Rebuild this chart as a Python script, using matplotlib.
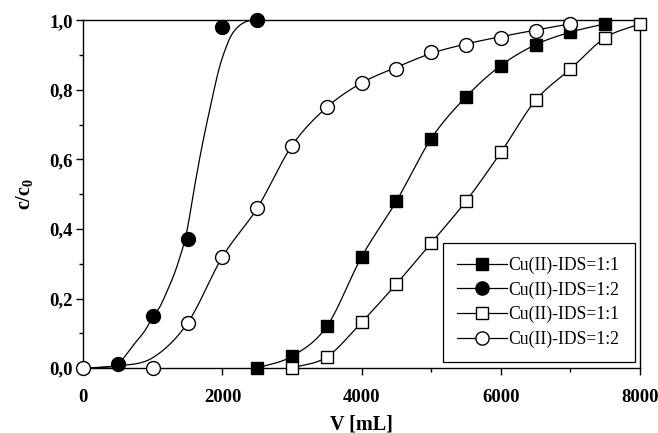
import numpy as np
import matplotlib
matplotlib.use("Agg")
import matplotlib.pyplot as plt
from matplotlib.ticker import MultipleLocator, FuncFormatter

# ---------------- data ----------------
label_11 = "Cu(II)-IDS=1:1"
label_12 = "Cu(II)-IDS=1:2"

# filled squares
fsq_x = [2500, 3000, 3500, 4000, 4500, 5000, 5500, 6000, 6500, 7000, 7500]
fsq_y = [0.00, 0.034, 0.12, 0.32, 0.48, 0.66, 0.78, 0.87, 0.93, 0.966, 0.99]

# filled circles
fci_x = [500, 1000, 1500, 2000, 2500]
fci_y = [0.012, 0.15, 0.37, 0.98, 1.00]
# fitted curve for filled circles
fci_curve_x = [0, 250, 500, 740, 890, 1000, 1100, 1210, 1310, 1390, 1460, 1510, 1550, 1590,
               1700, 1800, 1905, 1965, 2045, 2130, 2250, 2400, 2500]
fci_curve_y = [0, 0.002, 0.0135, 0.071, 0.109, 0.148, 0.176, 0.224, 0.272, 0.32, 0.368, 0.416, 0.464, 0.512,
               0.632, 0.728, 0.823, 0.871, 0.919, 0.958, 0.986, 1.0, 1.0]

# open squares
osq_x = [3000, 3500, 4000, 4500, 5000, 5500, 6000, 6500, 7000, 7500, 8000]
osq_y = [0.00, 0.032, 0.132, 0.242, 0.36, 0.48, 0.62, 0.77, 0.86, 0.95, 0.99]

# open circles
oci_x = [0, 1000, 1500, 2000, 2500, 3000, 3500, 4000, 4500, 5000, 5500, 6000, 6500, 7000]
oci_y = [0.00, 0.00, 0.13, 0.32, 0.46, 0.64, 0.75, 0.82, 0.86, 0.91, 0.93, 0.95, 0.97, 0.99]
# fitted curve for open circles
oci_curve_x = [0, 500, 1000, 1500, 2000, 2500, 3000, 3500, 4000, 4500, 5000, 5500, 6000, 6500, 7000]
oci_curve_y = [0, 0.006, 0.03, 0.13, 0.32, 0.46, 0.64, 0.75, 0.82, 0.865, 0.905, 0.932, 0.953, 0.972, 0.99]

x_ticks = [0, 2000, 4000, 6000, 8000]
y_ticks = [0.0, 0.2, 0.4, 0.6, 0.8, 1.0]


def smooth(xs, ys, n=400):
    """Smooth cardinal (Catmull-Rom style) Hermite rendering of a polyline."""
    x = np.asarray(xs, float)
    y = np.asarray(ys, float)
    h = np.diff(x)
    d = np.diff(y) / h
    m = np.zeros_like(x)
    m[0], m[-1] = d[0], d[-1]
    m[1:-1] = (y[2:] - y[:-2]) / (x[2:] - x[:-2])
    xx = np.linspace(x[0], x[-1], n)
    idx = np.clip(np.searchsorted(x, xx) - 1, 0, len(x) - 2)
    t = (xx - x[idx]) / h[idx]
    h00 = 2 * t**3 - 3 * t**2 + 1
    h10 = t**3 - 2 * t**2 + t
    h01 = -2 * t**3 + 3 * t**2
    h11 = t**3 - t**2
    yy = h00 * y[idx] + h10 * h[idx] * m[idx] + h01 * y[idx + 1] + h11 * h[idx] * m[idx + 1]
    return xx, yy


plt.rcParams['font.family'] = ['Liberation Serif', 'DejaVu Serif']
plt.rcParams['mathtext.fontset'] = 'custom'
plt.rcParams['mathtext.rm'] = 'Liberation Serif:bold'
plt.rcParams['mathtext.bf'] = 'Liberation Serif:bold'
plt.rcParams['mathtext.it'] = 'Liberation Serif:bold'

fig = plt.figure(figsize=(6.58, 4.33), dpi=100)
ax = fig.add_axes([0.1266, 0.150, 0.8460, 0.803])

lw = 0.9
mew = 1.0

# curves
for cx, cy in [(fsq_x, fsq_y), (fci_curve_x, fci_curve_y), (osq_x, osq_y), (oci_curve_x, oci_curve_y)]:
    sx, sy = smooth(cx, cy)
    ax.plot(sx, sy, color='black', lw=lw, zorder=2)

# markers
ax.plot(fsq_x, fsq_y, ls='none', marker='s', ms=8.5, mfc='black', mec='black', mew=mew, zorder=3, clip_on=False)
ax.plot(fci_x, fci_y, ls='none', marker='o', ms=10, mfc='black', mec='black', mew=mew, zorder=3, clip_on=False)
ax.plot(osq_x, osq_y, ls='none', marker='s', ms=8.5, mfc='white', mec='black', mew=mew, zorder=3, clip_on=False)
ax.plot(oci_x, oci_y, ls='none', marker='o', ms=10, mfc='white', mec='black', mew=mew, zorder=3, clip_on=False)

# legend handles
h1, = ax.plot([], [], color='black', lw=lw, marker='s', ms=8.5, mfc='black', mec='black', label=label_11)
h2, = ax.plot([], [], color='black', lw=lw, marker='o', ms=9.5, mfc='black', mec='black', label=label_12)
h3, = ax.plot([], [], color='black', lw=lw, marker='s', ms=8.5, mfc='white', mec='black', label=label_11)
h4, = ax.plot([], [], color='black', lw=lw, marker='o', ms=9.5, mfc='white', mec='black', label=label_12)
leg = ax.legend(handles=[h1, h2, h3, h4], loc='lower left', bbox_to_anchor=(0.647, 0.018, 0.344, 0.334),
                mode='expand', fancybox=False, framealpha=1, edgecolor='black', fontsize=12.7,
                handlelength=2.8, handletextpad=0.12, borderaxespad=0, labelspacing=0.42,
                borderpad=0.78, numpoints=1)
leg.get_frame().set_linewidth(0.9)

ax.set_xlim(0, 8000)
ax.set_ylim(0, 1.0)
ax.set_xticks(x_ticks)
ax.set_yticks(y_ticks)
ax.xaxis.set_minor_locator(MultipleLocator(1000))
ax.yaxis.set_minor_locator(MultipleLocator(0.1))
ax.yaxis.set_major_formatter(FuncFormatter(lambda v, p: f"{v:.1f}".replace('.', ',')))
ax.tick_params(which='major', direction='out', length=5, width=1, labelsize=13.5)
ax.tick_params(axis='x', which='major', pad=10)
ax.tick_params(axis='y', which='major', pad=2.5)
ax.tick_params(which='minor', direction='out', length=3.2, width=1)
for lab in ax.get_xticklabels() + ax.get_yticklabels():
    lab.set_fontweight('bold')
for s in ax.spines.values():
    s.set_linewidth(1.0)

ax.set_xlabel("V [mL]", fontsize=14.5, fontweight='bold', labelpad=6)
ax.set_ylabel("c/c$_{0}$", fontsize=14.5, fontweight='bold', labelpad=10)

fig.savefig("out.png", dpi=100)
